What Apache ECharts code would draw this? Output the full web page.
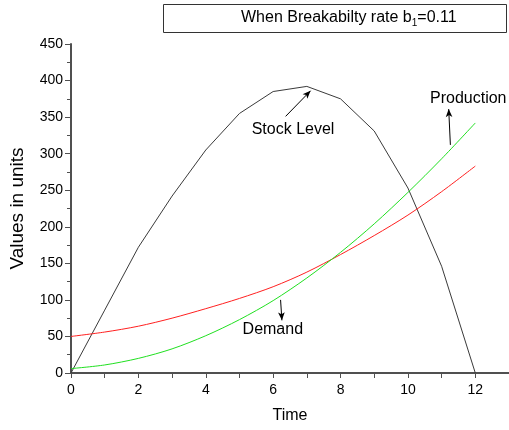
<!DOCTYPE html>
<html>
<head>
<meta charset="utf-8">
<script src="https://cdn.jsdelivr.net/npm/echarts@6/dist/echarts.min.js"></script>
<style>
html,body{margin:0;padding:0;background:#fff;}
#chart{width:509px;height:430px;}
</style>
</head>
<body>
<div id="chart"></div>
<script>
// ---- data ----
var times = [0, 1, 2, 3, 4, 5, 6, 7, 8, 9, 10, 11, 12];
var stockLevel = [0, 86, 172, 242, 305, 355, 385, 392, 375, 331, 253, 146, 0];
var demand = [50, 56, 64, 75, 88, 102, 118, 138, 162, 188, 216, 248, 283];
var production = [6, 11, 20, 33, 51, 73, 99, 130, 165, 204, 247, 293, 342];
var yTicks = [0, 50, 100, 150, 200, 250, 300, 350, 400, 450];
var xTicks = [0, 2, 4, 6, 8, 10, 12];

function pairs(vals) { return times.map(function (t, i) { return [t, vals[i]]; }); }

var FONT = '"Liberation Sans", Arial, sans-serif';
var axisColor = '#505050';

function arrow(from, to) {
  return {
    silent: true, symbol: ['none', 'arrow'], symbolSize: [5, 8],
    itemStyle: { color: '#000' },
    lineStyle: { color: '#000', width: 1, type: 'solid' }, label: { show: false },
    emphasis: { disabled: true },
    data: [[{ coord: from, symbol: 'none' }, { coord: to, symbol: 'arrow', symbolSize: [5, 8], itemStyle: { color: '#000' } }]]
  };
}
function note(text, at) {
  return {
    silent: true, symbol: 'circle', symbolSize: 1, itemStyle: { color: 'rgba(0,0,0,0)' },
    label: { show: true, position: 'inside', color: '#000', fontFamily: FONT, fontSize: 16, formatter: text },
    data: [{ coord: at }]
  };
}

var option = {
  animation: false,
  backgroundColor: '#fff',
  title: {
    text: 'When Breakabilty rate b{sub|1}=0.11',
    left: 163, top: 4,
    borderWidth: 1, borderColor: '#333',
    padding: [4, 50, 5, 78],
    textStyle: {
      fontFamily: FONT, fontSize: 16, fontWeight: 'normal', color: '#000',
      lineHeight: 20,
      rich: {
        sub: { fontFamily: FONT, fontSize: 10, lineHeight: 10, verticalAlign: 'bottom', color: '#000' }
      }
    }
  },
  grid: { left: 70, top: 44, width: 441, height: 329, containLabel: false },
  xAxis: {
    type: 'value', min: xTicks[0], max: 13, interval: xTicks[1] - xTicks[0],
    name: 'Time', nameLocation: 'middle', nameGap: 35,
    nameTextStyle: { fontFamily: FONT, fontSize: 16, color: '#000' },
    axisLine: { show: true, lineStyle: { color: axisColor, width: 2 } },
    axisTick: { show: true, length: 5, lineStyle: { color: axisColor, width: 1 } },
    minorTick: { show: true, splitNumber: 2, length: 5, lineStyle: { color: axisColor, width: 1 } },
    axisLabel: { fontFamily: FONT, fontSize: 14, color: '#000', margin: 10, showMaxLabel: false,
      formatter: function (v) { return xTicks.indexOf(v) >= 0 ? String(v) : ''; } },
    splitLine: { show: false }
  },
  yAxis: {
    type: 'value', min: yTicks[0], max: yTicks[yTicks.length - 1], interval: yTicks[1] - yTicks[0],
    name: 'Values in units', nameLocation: 'middle', nameGap: 44,
    nameTextStyle: { fontFamily: FONT, fontSize: 19, color: '#000' },
    axisLine: { show: true, lineStyle: { color: axisColor, width: 2 } },
    axisTick: { show: true, length: 6, lineStyle: { color: axisColor, width: 1 } },
    minorTick: { show: true, splitNumber: 2, length: 4, lineStyle: { color: axisColor, width: 1 } },
    axisLabel: { fontFamily: FONT, fontSize: 14, color: '#000', margin: 8 },
    splitLine: { show: false }
  },
  series: [
    {
      name: 'Stock Level', type: 'line', data: pairs(stockLevel),
      showSymbol: false, lineStyle: { color: '#3a3a3a', width: 1 }, itemStyle: { color: '#3a3a3a' },
      markLine: arrow([6.37, 351], [7.11, 386]),
      markPoint: note('Stock Level', [6.59, 333])
    },
    {
      name: 'Demand', type: 'line', data: pairs(demand), smooth: 0.3,
      showSymbol: false, lineStyle: { color: '#ff2020', width: 1 }, itemStyle: { color: '#ff2020' },
      markLine: arrow([6.22, 100], [6.26, 72]),
      markPoint: note('Demand', [5.99, 60])
    },
    {
      name: 'Production', type: 'line', data: pairs(production), smooth: 0.3,
      showSymbol: false, lineStyle: { color: '#20e020', width: 1 }, itemStyle: { color: '#20e020' },
      markLine: arrow([11.26, 312], [11.21, 361]),
      markPoint: note('Production', [11.79, 376])
    }
  ]
};

var chart = echarts.init(document.getElementById('chart'), null, { renderer: 'canvas' });
chart.setOption(option);
</script>
</body>
</html>
